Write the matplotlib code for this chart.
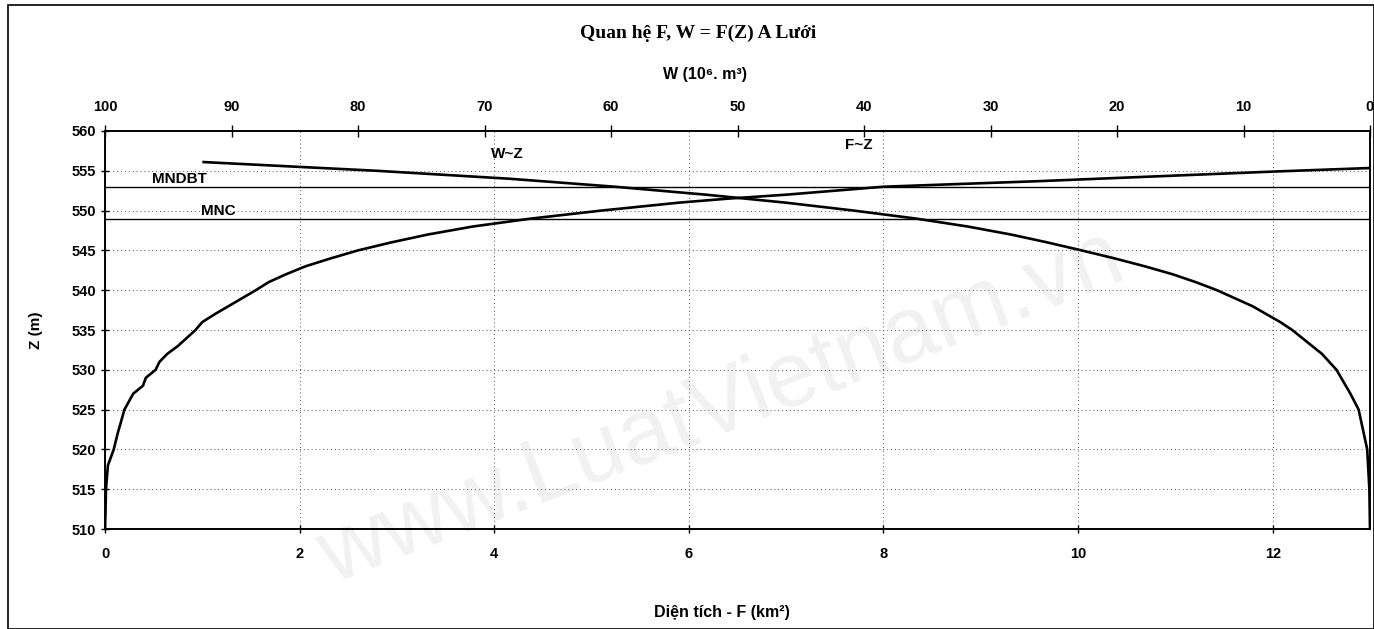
import matplotlib
matplotlib.use("Agg")
import matplotlib.pyplot as plt
from matplotlib.patches import Rectangle

# Quan he F ~ Z (dien tich, km2)
z_f = [510, 512, 515, 518, 520, 522, 525, 527, 528, 529, 530, 531, 532, 533,
       535, 536, 537, 538, 540, 541, 542, 543, 544, 545, 546, 547, 548,
       549, 550, 551, 551.5, 552, 553, 553.7, 554.9, 555.35]
f_vals = [0, 0.005, 0.01, 0.03, 0.09, 0.13, 0.2, 0.29, 0.39, 0.42, 0.52, 0.56,
          0.64, 0.75, 0.93, 1.0, 1.13, 1.27, 1.55, 1.68, 1.86, 2.06, 2.32, 2.6,
          2.94, 3.32, 3.78, 4.38, 5.1, 5.9, 6.4, 7.0, 8.0, 9.6, 12.0, 13.0]

# Quan he W ~ Z (dung tich, 10^6 m3)
z_w = [510, 515, 520, 525, 527, 530, 532, 535, 536, 538, 540, 541, 542, 543,
       544, 545, 546, 547, 548, 549, 550, 551, 552, 553, 554, 555, 556, 556.1]
w_vals = [0, 0.05, 0.22, 0.9, 1.55, 2.65, 3.8, 6.15, 7.1, 9.3, 12.1, 13.75,
          15.6, 17.8, 20.2, 22.8, 25.5, 28.4, 31.8, 35.9, 40.8, 46.2, 52.5,
          59.7, 68.0, 78.5, 91.0, 92.2]

# muc nuoc dac trung
mndbt = 553
mnc = 549

f_ticks = [0, 2, 4, 6, 8, 10, 12]
w_ticks = [100, 90, 80, 70, 60, 50, 40, 30, 20, 10, 0]
z_ticks = list(range(510, 561, 5))

sans = ["Liberation Sans", "DejaVu Sans"]
plt.rcParams["font.family"] = sans

fig = plt.figure(figsize=(13.74, 6.29), dpi=100)
fig.patches.append(Rectangle((8 / 1374, 0.0), 1 - 8 / 1374, 1 - 5 / 629,
                             transform=fig.transFigure, fill=False,
                             edgecolor="black", linewidth=1.2))

ax = fig.add_axes([105 / 1374, 100 / 629, 1265 / 1374, 398 / 629])
ax.set_xlim(0, 13)
ax.set_ylim(510, 560)
ax.set_facecolor("none")

# watermark
fig.text(0.525, 0.35, "www.LuatVietnam.vn", fontsize=66, color="#f1f1f1",
         rotation=21, ha="center", va="center", family=sans, zorder=1)

ax.grid(True, color="#555555", linestyle=(0, (1, 3)), linewidth=0.7)
ax.set_xticks(f_ticks)
ax.set_yticks(z_ticks)
ax.tick_params(axis="both", direction="inout", length=6, width=1,
               labelsize=10.5)
for lab in ax.get_xticklabels() + ax.get_yticklabels():
    lab.set_fontweight("bold")
ax.tick_params(axis="x", pad=10)

ax.plot(f_vals, z_f, color="black", linewidth=1.9)
ax.axhline(mndbt, color="black", linewidth=1.0)
ax.axhline(mnc, color="black", linewidth=1.0)

ax.text(0.48, mndbt + 0.45, "MNDBT", fontsize=11, fontweight="bold")
ax.text(0.99, mnc + 0.45, "MNC", fontsize=11, fontweight="bold")
ax.text(3.97, 556.6, "W~Z", fontsize=11, fontweight="bold")
ax.text(7.6, 557.8, "F~Z", fontsize=11, fontweight="bold")

ax.set_xlabel("Diện tích - F (km²)", fontsize=11.5, fontweight="bold")
ax.xaxis.set_label_coords(0.488, -0.19)
ax.set_ylabel("Z (m)", fontsize=11, fontweight="bold")
ax.yaxis.set_label_coords(-0.049, 0.5)

ax2 = ax.twiny()
ax2.set_xlim(100, 0)
ax2.set_xticks(w_ticks)
ax2.tick_params(axis="x", direction="inout", length=8, width=1,
                labelsize=10.5, pad=8)
for lab in ax2.get_xticklabels():
    lab.set_fontweight("bold")
ax2.plot(w_vals, z_w, color="black", linewidth=1.9)
ax2.set_xlabel("W (10⁶. m³)", fontsize=11.5, fontweight="bold")
ax2.xaxis.set_label_coords(0.474, 1.131)

for a in (ax, ax2):
    a.set_zorder(2)
    for sp in a.spines.values():
        sp.set_linewidth(1.2)
ax2.patch.set_visible(False)

fig.text(0.508, 1 - 33 / 629, "Quan hệ F, W = F(Z) A Lưới", ha="center",
         va="center", fontsize=14, fontweight="bold",
         family=["Liberation Serif", "DejaVu Serif"])

fig.savefig("out.png", dpi=100)
